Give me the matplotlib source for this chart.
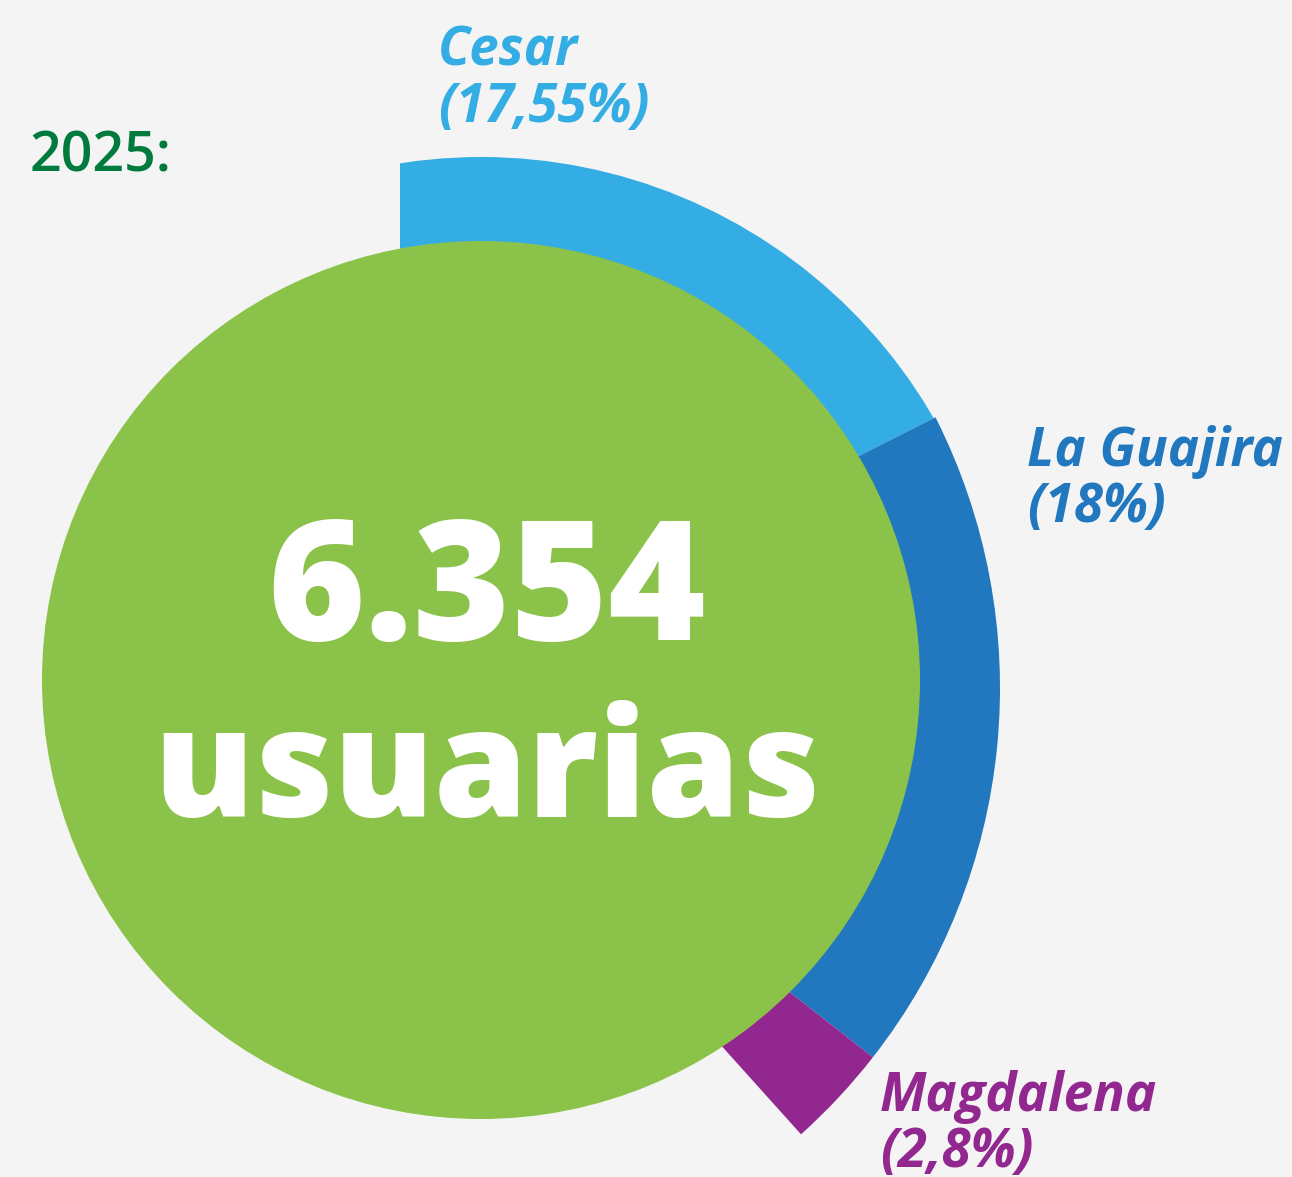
import matplotlib.pyplot as plt
from matplotlib.patches import Wedge, Circle

# data
regions = ['Cesar', 'La Guajira', 'Magdalena']
shares = [17.55, 18, 2.8]
share_labels = ['(17,55%)', '(18%)', '(2,8%)']
colors = ['#33ade3', '#2178be', '#92278f']
total_users = '6.354'
unit = 'usuarias'
year = '2025:'

bg = '#f4f4f4'
green = '#8bc34a'
plt.rcParams['font.family'] = ['Open Sans', 'DejaVu Sans']

fig = plt.figure(figsize=(12.92, 11.77), dpi=100, facecolor=bg)
ax = fig.add_axes([0, 0, 1, 1])
ax.set_facecolor(bg)
ax.set_xlim(0, 1292)
ax.set_ylim(1177, 0)
ax.axis('off')

# ring of wedges, angles clockwise from 12 o'clock
pie_center = (400, 688)
pie_r = 600
clip = Circle((481, 680), 523, transform=ax.transData)

start = 0
for name, s, c in zip(regions, shares, colors):
    sweep = s / 100 * 360
    w = Wedge(pie_center, pie_r, start - 90, start + sweep - 90,
              facecolor=c, edgecolor='none', zorder=1)
    ax.add_patch(w)
    if name == 'Cesar':
        w.set_clip_path(clip)
    start += sweep

# green disc with the total
ax.add_patch(Circle((481, 680), 439, facecolor=green, edgecolor='none', zorder=3))
ax.text(487, 640, total_users, ha='center', va='baseline', fontsize=120,
        fontweight='heavy', color='white', zorder=4)
ax.text(487, 817, unit, ha='center', va='baseline', fontsize=108,
        fontweight='heavy', color='white', zorder=4)

ax.text(30, 171, year, ha='left', va='baseline', fontsize=40,
        fontweight='semibold', color='#007a3d')

# labels
label_pos = [(438, 66), (1027, 466), (880, 1111)]
for name, lab, c, (x, y) in zip(regions, share_labels, colors, label_pos):
    ax.text(x, y, name, ha='left', va='baseline', fontsize=38,
            fontweight='bold', fontstyle='italic', color=c)
    ax.text(x, y + 56, lab, ha='left', va='baseline', fontsize=38,
            fontweight='bold', fontstyle='italic', color=c)

fig.savefig('out.png', dpi=100, facecolor=bg)
